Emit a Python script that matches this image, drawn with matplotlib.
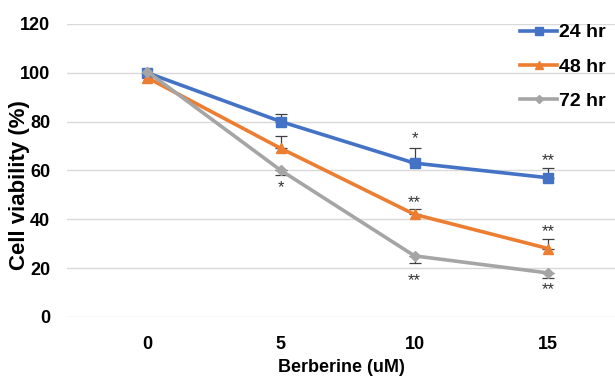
import numpy as np
import matplotlib
matplotlib.use("Agg")
import matplotlib.pyplot as plt

plt.rcParams['font.family'] = ['Liberation Sans Narrow', 'Liberation Sans', 'DejaVu Sans']

# data
doses = ["0", "5", "10", "15"]
series_names = ["24 hr", "48 hr", "72 hr"]
v24 = [100, 80, 63, 57]
v48 = [98, 69, 42, 28]
v72 = [100.5, 60, 25, 18]
# one-sided error bars (24 hr & 48 hr up, 72 hr down)
e24 = [0, 3, 6, 4]
e48 = [0, 5, 2, 4]
e72 = [0, 2, 3, 2]
# significance marks: (dose index, y value, text)
stars = [
    (1, 53, "*"),
    (2, 73, "*"), (2, 47, "**"), (2, 15, "**"),
    (3, 64, "**"), (3, 35, "**"), (3, 11, "**"),
]

colors = ["#4472C4", "#ED7D31", "#A5A5A5"]
markers = ["s", "^", "D"]
msizes = [7, 7, 5]

fig = plt.figure(figsize=(6.15, 3.8), dpi=100)
ax = fig.add_axes([0.109, 0.166, 0.891, 0.771])

x = np.arange(len(doses))
vals = [v24, v48, v72]
errs = [e24, e48, e72]
for i, (v, e) in enumerate(zip(vals, errs)):
    v = np.array(v, dtype=float)
    e = np.array(e, dtype=float)
    if i < 2:
        yerr = [np.zeros_like(e), e]
    else:
        yerr = [e, np.zeros_like(e)]
    mask = e > 0
    ax.errorbar(x[mask], v[mask], yerr=[yerr[0][mask], yerr[1][mask]], fmt="none",
                ecolor="#404040", elinewidth=0.9, capsize=4, capthick=0.9, zorder=2)
    ax.plot(x, v, color=colors[i], linewidth=2.6, marker=markers[i], markersize=msizes[i],
            label=series_names[i], zorder=3)

for xi, yv, t in stars:
    ax.text(xi, yv, t, ha="center", va="center", fontsize=12, color="#333333")

ax.set_xlim(-0.6, 3.5)
ax.set_ylim(0, 120)
ax.set_yticks(np.arange(0, 121, 20))
ax.set_xticks(x)
ax.set_xticklabels(doses)
ax.yaxis.grid(True, color="#D9D9D9", linewidth=1)
ax.set_axisbelow(True)
for s in ax.spines.values():
    s.set_visible(False)
ax.tick_params(length=0, labelsize=13)
ax.tick_params(axis="x", pad=14)
ax.tick_params(axis="y", pad=12)
for lab in ax.get_xticklabels() + ax.get_yticklabels():
    lab.set_fontweight("bold")

ax.set_xlabel("Berberine (uM)", fontsize=13, fontweight="bold", labelpad=4)
ax.set_ylabel("Cell viability (%)", fontsize=16, fontweight="bold")
ax.yaxis.set_label_coords(-0.068, 0.45)

leg = ax.legend(loc="upper right", bbox_to_anchor=(1.015, 1.06), frameon=False,
                prop={"weight": "bold", "size": 14}, handlelength=1.9,
                handletextpad=0.1, labelspacing=0.85, markerscale=0.8)

fig.savefig("out.png", dpi=100)
